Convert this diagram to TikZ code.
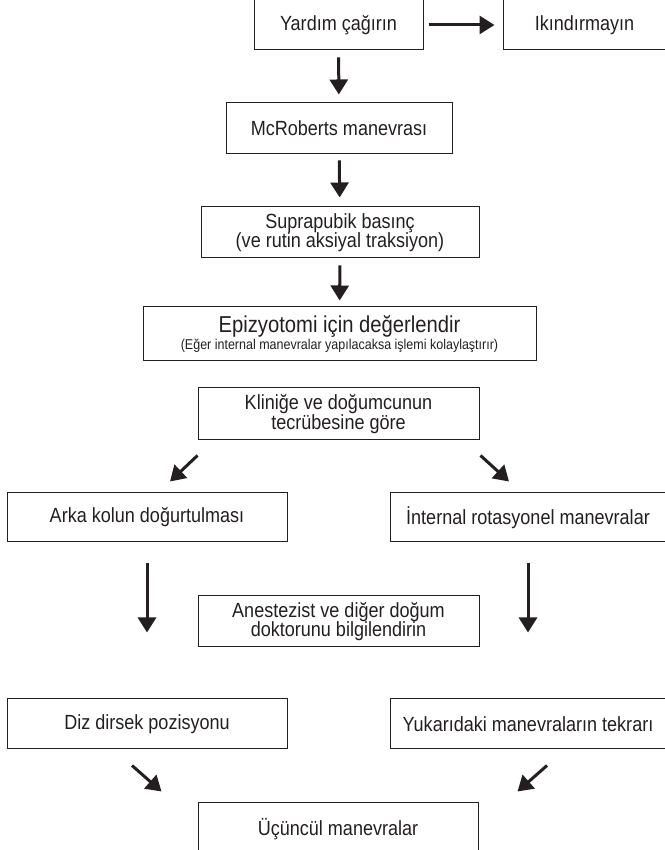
\documentclass[tikz,border=0pt]{standalone}
\usepackage{fontspec}
\setmainfont{Liberation Sans}[FakeStretch=0.88]
\usetikzlibrary{arrows.meta}
\definecolor{ink}{HTML}{231F20}

\tikzset{
  box/.style={draw=ink, line width=1pt, text=ink, align=center, inner sep=0pt,
    font=\fontsize{20.5}{19.5}\selectfont},
  arr/.style={draw=ink, fill=ink, line width=3pt, -{Triangle[length=15pt,width=18pt]}}
}

\begin{document}
\begin{tikzpicture}[x=1pt,y=1pt]
\useasboundingbox (0,0) rectangle (664,850);

% main column
\node[box, minimum width=169pt, minimum height=50pt] (yardim) at (338.5,825) {Yardım çağırın};
\node[box, minimum width=163pt, minimum height=50pt] (ikin) at (584.5,825) {Ikındırmayın};
\node[box, minimum width=226pt, minimum height=51pt] (mcr) at (339,721.5) {McRoberts manevrası};
\node[box, minimum width=278pt, minimum height=51pt] (supra) at (340,617.5) {Suprapubik basınç\\(ve rutin aksiyal traksiyon)};
\node[box, minimum width=393pt, minimum height=54pt] (epi) at (339.5,516)
  {{\fontsize{23}{21}\selectfont Epizyotomi için değerlendir}\\[-3pt]{\fontsize{14.2}{15}\selectfont (Eğer internal manevralar yapılacaksa işlemi kolaylaştırır)}};
\node[box, minimum width=281pt, minimum height=52pt] (klinik) at (338.5,436) {Kliniğe ve doğumcunun\\tecrübesine göre};

% two branches
\node[box, minimum width=280pt, minimum height=49pt] (arka) at (147,332.5) {Arka kolun doğurtulması};
\node[box, minimum width=276pt, minimum height=49pt] (internal) at (528,332.5) {İnternal rotasyonel manevralar};
\node[box, minimum width=281pt, minimum height=51pt] (anest) at (338.5,228.5) {Anestezist ve diğer doğum\\doktorunu bilgilendirin};
\node[box, minimum width=280pt, minimum height=50pt] (diz) at (147,126) {Diz dirsek pozisyonu};
\node[box, minimum width=276pt, minimum height=50pt] (yukari) at (528,126) {Yukarıdaki manevraların tekrarı};
\node[box, minimum width=280pt, minimum height=52pt] (ucuncul) at (338,21) {Üçüncül manevralar};

% arrows
\draw[arr, shorten <=5pt, shorten >=8pt] (yardim) -- (ikin);
\draw[arr, shorten <=7pt, shorten >=8pt] (yardim) -- (mcr);
\draw[arr, shorten <=6pt, shorten >=9pt] (mcr) -- (supra);
\draw[arr, shorten <=7pt, shorten >=6pt] (supra) -- (epi);
\draw[arr] ([yshift=-15pt]klinik.south west) -- ([xshift=23pt,yshift=11pt]arka.north);
\draw[arr] ([xshift=1pt,yshift=-15pt]klinik.south east) -- ([xshift=-19pt,yshift=11pt]internal.north);
\draw[arr, shorten <=21pt, shorten >=66pt] (arka) -- (diz);
\draw[arr, shorten <=21pt, shorten >=66pt] (internal) -- (yukari);
\draw[arr] ([xshift=-15pt,yshift=-16pt]diz.south) -- ([xshift=-36pt,yshift=11pt]ucuncul.north west);
\draw[arr] ([xshift=19pt,yshift=-16pt]yukari.south) -- ([xshift=39pt,yshift=11pt]ucuncul.north east);

\end{tikzpicture}
\end{document}
